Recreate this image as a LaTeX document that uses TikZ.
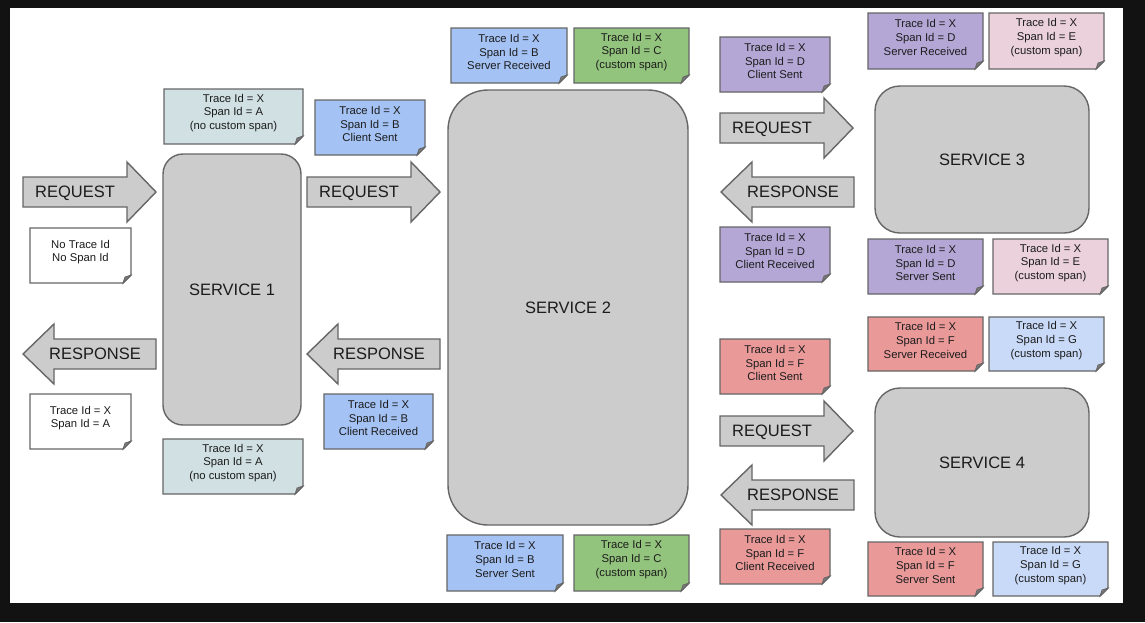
\documentclass[tikz,border=0pt]{standalone}
\usepackage{fontspec}
\setmainfont{Liberation Sans}
\definecolor{svc}{HTML}{CCCCCC}
\definecolor{bordc}{HTML}{666666}
\definecolor{foldc}{HTML}{7A7A7A}
\definecolor{cA}{HTML}{D0E0E3}
\definecolor{cB}{HTML}{A4C2F4}
\definecolor{cC}{HTML}{93C47D}
\definecolor{cD}{HTML}{B4A7D6}
\definecolor{cE}{HTML}{EAD1DC}
\definecolor{cF}{HTML}{EA9999}
\definecolor{cG}{HTML}{C9DAF8}
\definecolor{txt}{HTML}{1C1C1C}
\newcommand\notebox[7]{%
  \filldraw[bord, fill=#6] (#2,#3) -- (#4,#3) -- (#4,#5-8) -- (#4-8,#5) -- (#2,#5) -- cycle;
  \filldraw[bord, fill=foldc, line width=0.8pt] (#4,#5-8) -- (#4-8,#5) .. controls (#4-7,#5-3) .. (#4-6,#5-6) .. controls (#4-3,#5-7) .. cycle;
  \node[notetext] (#1) at ({(#2+#4)/2},{(#3+#5)/2-3.5}) {#7};
}
\newcommand\reqarrow[4]{%
  \filldraw[bord, fill=svc] (#2,#3-15) -- (#2+104,#3-15) -- (#2+104,#3-30) -- (#2+133,#3) -- (#2+104,#3+30) -- (#2+104,#3+15) -- (#2,#3+15) -- cycle;
  \node[bigtext] (#1) at (#2+52,#3) {#4};
}
\newcommand\resarrow[4]{%
  \filldraw[bord, fill=svc] (#2,#3) -- (#2+31,#3-30) -- (#2+31,#3-15) -- (#2+133,#3-15) -- (#2+133,#3+15) -- (#2+31,#3+15) -- (#2+31,#3+30) -- cycle;
  \node[bigtext] (#1) at (#2+72,#3) {#4};
}
\begin{document}
\begin{tikzpicture}[x=1pt,y=-1pt,
  bord/.style={draw=bordc, line width=1.4pt, line join=miter},
  notetext/.style={inner sep=0pt, align=center, text=txt, font=\fontsize{11.3}{13.8}\selectfont},
  bigtext/.style={inner sep=0pt, text=txt, text height=11.8pt, text depth=0pt, font=\fontsize{16.5}{20}\selectfont},
  service/.style={bord, fill=svc, rounded corners=#1, inner sep=0pt, text=txt, text height=11.8pt, text depth=0pt, font=\fontsize{16.5}{20}\selectfont}]
\fill[black!93] (0,0) rectangle (1145,622);
\fill[white] (10,8) rectangle (1123,603);
\useasboundingbox (0,0) rectangle (1145,622);

% services
\node[service=20pt, minimum width=138pt, minimum height=271pt] (s1) at (232,289.5) {SERVICE 1};
\node[service=40pt, minimum width=240pt, minimum height=435pt] (s2) at (568,307.5) {SERVICE 2};
\node[service=25pt, minimum width=214pt, minimum height=147pt] (s3) at (982,159.5) {SERVICE 3};
\node[service=25pt, minimum width=214pt, minimum height=149pt] (s4) at (982,462.5) {SERVICE 4};

% arrows
\reqarrow{req1}{23}{192}{REQUEST}
\reqarrow{req2}{307}{192}{REQUEST}
\resarrow{res1}{23}{354}{RESPONSE}
\resarrow{res2}{307}{354}{RESPONSE}
\reqarrow{req3}{720}{128}{REQUEST}
\resarrow{res3}{721}{192}{RESPONSE}
\reqarrow{req4}{720}{431}{REQUEST}
\resarrow{res4}{721}{495}{RESPONSE}

% notes
\notebox{nA1}{164}{89}{303}{144}{cA}{Trace Id = X\\Span Id = A\\(no custom span)}
\notebox{nB1}{315}{100}{425}{155}{cB}{Trace Id = X\\Span Id = B\\Client Sent}
\notebox{n0}{30}{228}{131}{283}{white}{No Trace Id\\No Span Id}
\notebox{nA2}{30}{394}{131}{449}{white}{Trace Id = X\\Span Id = A}
\notebox{nA3}{163}{439}{303}{494}{cA}{Trace Id = X\\Span Id = A\\(no custom span)}
\notebox{nB2}{324}{394}{433}{449}{cB}{Trace Id = X\\Span Id = B\\Client Received}
\notebox{nB3}{451}{28}{567}{83}{cB}{Trace Id = X\\Span Id = B\\Server Received}
\notebox{nC1}{574}{28}{689}{83}{cC}{Trace Id = X\\Span Id = C\\(custom span)}
\notebox{nB4}{447}{535}{563}{591}{cB}{Trace Id = X\\Span Id = B\\Server Sent}
\notebox{nC2}{574}{535}{689}{591}{cC}{Trace Id = X\\Span Id = C\\(custom span)}
\notebox{nD1}{720}{37}{830}{92}{cD}{Trace Id = X\\Span Id = D\\Client Sent}
\notebox{nD2}{868}{13}{983}{69}{cD}{Trace Id = X\\Span Id = D\\Server Received}
\notebox{nE1}{989}{13}{1104}{69}{cE}{Trace Id = X\\Span Id = E\\(custom span)}
\notebox{nD3}{720}{227}{830}{282}{cD}{Trace Id = X\\Span Id = D\\Client Received}
\notebox{nD4}{868}{239}{983}{294}{cD}{Trace Id = X\\Span Id = D\\Server Sent}
\notebox{nE2}{993}{239}{1108}{294}{cE}{Trace Id = X\\Span Id = E\\(custom span)}
\notebox{nF1}{720}{339}{830}{394}{cF}{Trace Id = X\\Span Id = F\\Client Sent}
\notebox{nF2}{868}{317}{983}{371}{cF}{Trace Id = X\\Span Id = F\\Server Received}
\notebox{nG1}{989}{317}{1104}{371}{cG}{Trace Id = X\\Span Id = G\\(custom span)}
\notebox{nF3}{720}{529}{830}{584}{cF}{Trace Id = X\\Span Id = F\\Client Received}
\notebox{nF4}{868}{542}{983}{596}{cF}{Trace Id = X\\Span Id = F\\Server Sent}
\notebox{nG2}{993}{542}{1108}{596}{cG}{Trace Id = X\\Span Id = G\\(custom span)}
\end{tikzpicture}
\end{document}
